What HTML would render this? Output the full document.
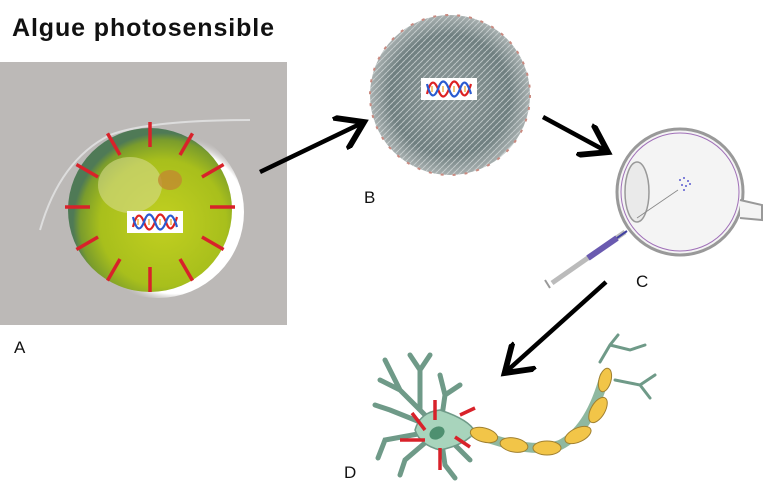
<!DOCTYPE html>
<html><head><meta charset="utf-8"><style>
html,body{margin:0;padding:0;background:#fff;}
svg{display:block;}
text{font-family:"Liberation Sans",sans-serif;}
</style></head><body>
<svg width="780" height="496" viewBox="0 0 780 496" xmlns="http://www.w3.org/2000/svg">
<defs>
<radialGradient id="cell" cx="0.58" cy="0.58" r="0.55">
<stop offset="0" stop-color="#c2d020"/><stop offset="0.7" stop-color="#a8bf1c"/><stop offset="0.92" stop-color="#7a9c2c"/><stop offset="1" stop-color="#4f7a56"/>
</radialGradient>
<radialGradient id="halo" cx="0.6" cy="0.55" r="0.5">
<stop offset="0.85" stop-color="#ffffff"/><stop offset="1" stop-color="#bdbab8" stop-opacity="0"/>
</radialGradient>
<radialGradient id="np" cx="0.5" cy="0.5" r="0.5">
<stop offset="0" stop-color="#8f9a9a"/><stop offset="0.75" stop-color="#6f7f80"/><stop offset="1" stop-color="#a8b0b0"/>
</radialGradient>
<pattern id="tex" width="6" height="6" patternUnits="userSpaceOnUse">
<path d="M0 3 L3 0 M3 6 L6 3" stroke="#d8dede" stroke-width="1"/>
</pattern>
<marker id="ah" markerWidth="8" markerHeight="8" refX="5" refY="4" orient="auto" markerUnits="strokeWidth">
<path d="M0,0 L6,4 L0,8" fill="none" stroke="#000" stroke-width="1.3"/>
</marker>
<g id="dna">
<rect x="-28" y="-11" width="56" height="22" fill="#fff"/>
<path d="M-22 5 Q-17 -15 -11 0 Q-6 15 0 0 Q5 -15 11 0 Q16 15 22 -5" fill="none" stroke="#d22" stroke-width="2.2"/>
<path d="M-22 -5 Q-17 15 -11 0 Q-6 -15 0 0 Q5 15 11 0 Q16 -15 22 5" fill="none" stroke="#2a5bd0" stroke-width="2.2"/>
<path d="M-17 -3v6M-6 -3v6M5 -3v6M16 -3v6" stroke="#e8a020" stroke-width="1.2"/>
</g>
</defs>

<text x="12" y="36" font-size="25" font-weight="bold" letter-spacing="0.9" fill="#111">Algue photosensible</text>

<!-- A photo -->
<rect x="0" y="62" width="287" height="263" fill="#bcb9b7"/>
<circle cx="158" cy="212" r="86" fill="url(#halo)"/>
<circle cx="150" cy="210" r="82" fill="url(#cell)"/>
<ellipse cx="130" cy="185" rx="32" ry="28" fill="#d6db8a" opacity="0.6"/>
<ellipse cx="170" cy="180" rx="12" ry="10" fill="#c28a30" opacity="0.8"/>
<path d="M40 230 Q60 160 110 135 Q150 120 250 120" fill="none" stroke="#ddd" stroke-width="2"/>
<g stroke="#d8222a" stroke-width="3.5">
<g transform="translate(150,207)">
<line x1="0" y1="-60" x2="0" y2="-85"/>
<line x1="0" y1="-60" x2="0" y2="-85" transform="rotate(30)"/>
<line x1="0" y1="-60" x2="0" y2="-85" transform="rotate(60)"/>
<line x1="0" y1="-60" x2="0" y2="-85" transform="rotate(90)"/>
<line x1="0" y1="-60" x2="0" y2="-85" transform="rotate(120)"/>
<line x1="0" y1="-60" x2="0" y2="-85" transform="rotate(150)"/>
<line x1="0" y1="-60" x2="0" y2="-85" transform="rotate(180)"/>
<line x1="0" y1="-60" x2="0" y2="-85" transform="rotate(210)"/>
<line x1="0" y1="-60" x2="0" y2="-85" transform="rotate(240)"/>
<line x1="0" y1="-60" x2="0" y2="-85" transform="rotate(270)"/>
<line x1="0" y1="-60" x2="0" y2="-85" transform="rotate(300)"/>
<line x1="0" y1="-60" x2="0" y2="-85" transform="rotate(330)"/>
</g></g>
<use href="#dna" x="155" y="222"/>
<text x="14" y="353" font-size="17" fill="#111">A</text>

<!-- arrows -->
<line x1="260" y1="172" x2="360" y2="124" stroke="#000" stroke-width="4.5" marker-end="url(#ah)"/>
<line x1="543" y1="117" x2="604" y2="150" stroke="#000" stroke-width="4.5" marker-end="url(#ah)"/>
<line x1="606" y1="282" x2="508" y2="370" stroke="#000" stroke-width="4.5" marker-end="url(#ah)"/>

<!-- B nanoparticle -->
<circle cx="450" cy="95" r="80" fill="url(#np)"/>
<circle cx="450" cy="95" r="80" fill="url(#tex)" opacity="0.7"/>
<circle cx="450" cy="95" r="80" fill="none" stroke="#c98a80" stroke-width="2" stroke-dasharray="3 9"/>
<use href="#dna" x="449" y="89"/>
<text x="364" y="203" font-size="17" fill="#111">B</text>

<!-- C eye -->
<circle cx="680" cy="192" r="63" fill="#f4f4f4" stroke="#999" stroke-width="3"/>
<circle cx="680" cy="192" r="59" fill="none" stroke="#a070b8" stroke-width="1"/>
<ellipse cx="637" cy="192" rx="12" ry="30" fill="#eaeaea" stroke="#999" stroke-width="1.5"/>
<path d="M740 200 L762 205 L762 220 L740 218" fill="#f4f4f4" stroke="#999" stroke-width="2"/>
<line x1="637" y1="218" x2="678" y2="190" stroke="#888" stroke-width="0.8"/>
<g fill="#5a5ad0"><circle cx="680" cy="180" r="1"/><circle cx="684" cy="178" r="1"/><circle cx="688" cy="181" r="1"/><circle cx="682" cy="185" r="1"/><circle cx="686" cy="186" r="1"/><circle cx="690" cy="184" r="1"/><circle cx="684" cy="190" r="1"/></g>
<line x1="552" y1="283" x2="625" y2="232" stroke="#bbb" stroke-width="5"/>
<line x1="588" y1="258" x2="617" y2="238" stroke="#6a5ab0" stroke-width="6"/>
<line x1="617" y1="238" x2="627" y2="231" stroke="#4040a0" stroke-width="2"/>
<line x1="545" y1="280" x2="550" y2="288" stroke="#999" stroke-width="2"/>
<text x="636" y="287" font-size="17" fill="#111">C</text>

<!-- D neuron -->
<g fill="none" stroke="#6f9a88" stroke-width="5" stroke-linecap="round">
<path d="M440 430 L400 390 L385 360 M400 390 L380 380 M420 410 L420 370 L410 355 M420 370 L430 355 M440 430 L445 395 L440 375 M445 395 L460 385 M440 430 L390 410 L375 405 M440 430 L385 440 L378 458 M440 430 L405 460 L400 475 M440 430 L445 465 L455 478 M440 430 L470 460"/>
<path d="M600 362 L610 345 L618 335 M610 345 L630 350 L645 345 M615 380 L640 385 L650 398 M640 385 L655 375" stroke-width="3"/>
</g>
<path d="M440 410 Q470 420 475 432 Q465 445 440 450 Q420 445 415 430 Q420 412 440 410Z" fill="#a8d4bc" stroke="#6f9a88" stroke-width="1.5"/>
<ellipse cx="437" cy="433" rx="8" ry="6" fill="#4e9070" transform="rotate(-30 437 433)"/>
<path d="M472 432 Q530 455 560 445 Q590 430 605 375" fill="none" stroke="#8fb8a0" stroke-width="10"/>
<g fill="#f2c548" stroke="#a08030" stroke-width="1">
<ellipse cx="484" cy="435" rx="14" ry="7" transform="rotate(15 484 435)"/>
<ellipse cx="514" cy="445" rx="14" ry="7" transform="rotate(10 514 445)"/>
<ellipse cx="547" cy="448" rx="14" ry="7"/>
<ellipse cx="578" cy="435" rx="14" ry="7" transform="rotate(-25 578 435)"/>
<ellipse cx="598" cy="410" rx="14" ry="7" transform="rotate(-60 598 410)"/>
<ellipse cx="605" cy="380" rx="12" ry="6" transform="rotate(-75 605 380)"/>
</g>
<g stroke="#d8222a" stroke-width="3.5">
<line x1="412" y1="413" x2="425" y2="430"/>
<line x1="435" y1="400" x2="435" y2="420"/>
<line x1="460" y1="415" x2="475" y2="408"/>
<line x1="455" y1="437" x2="470" y2="447"/>
<line x1="400" y1="440" x2="425" y2="440"/>
<line x1="440" y1="448" x2="440" y2="470"/>
</g>
<text x="344" y="478" font-size="17" fill="#111">D</text>
</svg>
</body></html>
